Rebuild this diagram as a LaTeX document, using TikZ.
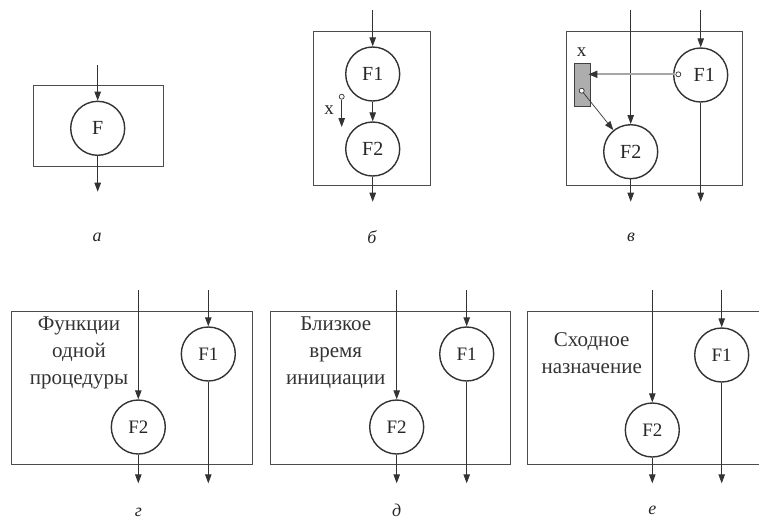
\documentclass[tikz,border=0pt]{standalone}
\usepackage{fontspec}
\setmainfont{Liberation Serif}
\usetikzlibrary{arrows.meta}
\begin{document}
\begin{tikzpicture}[x=1pt,y=-1pt,
  frame/.style={draw=black!70,line width=0.9pt},
  fn/.style={circle,draw=black!80,line width=1.4pt,minimum size=54pt,inner sep=0pt,font=\fontsize{20}{20}\selectfont,text=black!85},
  fnl/.style={fn,font=\fontsize{19}{19}\selectfont},
  flow/.style={draw=black!80,line width=0.9pt,-{Triangle[length=9pt,width=6.5pt]}},
  port/.style={circle,draw=black!80,fill=white,line width=0.7pt,minimum size=5pt,inner sep=0pt},
  caption/.style={font=\fontsize{18}{18}\selectfont\itshape,text=black!85},
  note/.style={align=center,font=\fontsize{21}{27}\selectfont,text=black!80},
  xlab/.style={font=\fontsize{19}{19}\selectfont,text=black!85}
]
\useasboundingbox (0,0) rectangle (759,520);

% ---------- a ----------
\draw[frame] (33.3,85) rectangle (163.3,166.7);
\node[fn] (aF) at (97.7,128.3) {F};
\coordinate (ain) at (97.7,65);
\coordinate (aout) at (97.7,191.7);
\draw[flow] (ain) -- (aF);
\draw[flow] (aF) -- (aout);
\node[caption] (capa) at (97,237) {а};

% ---------- b ----------
\draw[frame] (313.3,31.7) rectangle (430.7,185);
\node[fn] (bF1) at (372.7,74) {F1};
\node[fn] (bF2) at (372.7,149) {F2};
\coordinate (bin) at (372.7,10);
\coordinate (bout) at (372.7,201.7);
\draw[flow] (bin) -- (bF1);
\draw[flow] (bF1) -- (bF2);
\draw[flow] (bF2) -- (bout);
\node[port] (bx) at (341.7,96.7) {};
\coordinate (bxend) at (341.7,127);
\draw[flow] (bx) -- (bxend);
\node[xlab] (bxl) at (329,110) {x};
\node[caption] (capb) at (372,237) {б};

% ---------- v ----------
\draw[frame] (566,31.7) rectangle (742.7,185);
\node[fn] (cF1) at (700.7,75) {\hspace*{7pt}F1};
\node[fn] (cF2) at (630.7,151.7) {F2};
\coordinate (cin1) at (630.7,10);
\coordinate (cin2) at (700.7,10);
\coordinate (cout1) at (630.7,201.7);
\coordinate (cout2) at (700.7,201.7);
\draw[flow] (cin1) -- (cF2);
\draw[flow] (cin2) -- (cF1);
\draw[flow] (cF2) -- (cout1);
\draw[flow] (cF1) -- (cout2);
\node[draw=black!75,fill=black!32,line width=0.8pt,minimum width=16pt,minimum height=43pt,inner sep=0pt] (cbox) at (582,85) {};
\node[xlab] (cxl) at (581.7,52) {x};
\node[port] (cp1) at (678.3,74.3) {};
\node[port] (cp2) at (581.7,90.7) {};
\coordinate (cboxin) at ([xshift=-2pt]cbox.east |- cp1);
\draw[draw=black!35,line width=1.8pt,-{Triangle[length=9pt,width=7pt,color=black!80]}] (cp1) -- (cboxin);
\draw[draw=black!80,line width=0.7pt,-{Triangle[length=9pt,width=6.5pt]}] (cp2) -- (cF2);
\node[caption] (capv) at (631,237) {в};

% ---------- g ----------
\draw[frame] (11.7,311.7) rectangle (252.3,464);
\node[fnl] (gF1) at (208.3,354) {F1};
\node[fnl] (gF2) at (138.3,427) {F2};
\coordinate (gin1) at (138.3,290);
\coordinate (gin2) at (208.3,290);
\coordinate (gout1) at (138.3,483.3);
\coordinate (gout2) at (208.3,483.3);
\draw[flow] (gin1) -- (gF2);
\draw[flow] (gin2) -- (gF1);
\draw[flow] (gF2) -- (gout1);
\draw[flow] (gF1) -- (gout2);
\node[note] (gt) at (79,353) {Функции\\одной\\процедуры};
\node[caption] (capg) at (138.3,512) {г};

% ---------- d ----------
\draw[frame] (270,311.7) rectangle (510,464);
\node[fnl] (dF1) at (466.7,354) {F1};
\node[fnl] (dF2) at (396.7,427) {F2};
\coordinate (din1) at (396.7,290);
\coordinate (din2) at (466.7,290);
\coordinate (dout1) at (396.7,483.3);
\coordinate (dout2) at (466.7,483.3);
\draw[flow] (din1) -- (dF2);
\draw[flow] (din2) -- (dF1);
\draw[flow] (dF2) -- (dout1);
\draw[flow] (dF1) -- (dout2);
\node[note] (dt) at (335.8,353) {Близкое\\время\\инициации};
\node[caption] (capd) at (396.7,510) {д};

% ---------- e ----------
\draw[frame] (759,311.7) -- (527.3,311.7) -- (527.3,464) -- (759,464);
\node[fnl] (eF1) at (721.7,355) {F1};
\node[fnl] (eF2) at (652.3,430) {F2};
\coordinate (ein1) at (652.3,290);
\coordinate (ein2) at (721.7,290);
\coordinate (eout1) at (652.3,483.3);
\coordinate (eout2) at (721.7,483.3);
\draw[flow] (ein1) -- (eF2);
\draw[flow] (ein2) -- (eF1);
\draw[flow] (eF2) -- (eout1);
\draw[flow] (eF1) -- (eout2);
\node[note] (et) at (591.7,353) {Сходное\\назначение};
\node[caption] (cape) at (652.3,510) {е};
\end{tikzpicture}
\end{document}
